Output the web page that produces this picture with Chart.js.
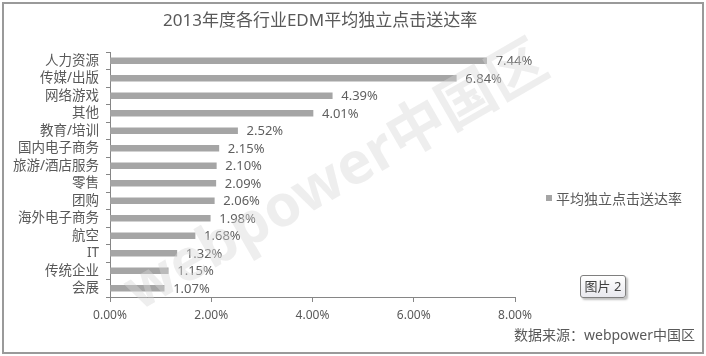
<!DOCTYPE html>
<html>
<head>
<meta charset="utf-8">
<script src="https://cdn.jsdelivr.net/npm/chart.js@4.4.1/dist/chart.umd.min.js"></script>
<style>
  html, body { margin: 0; padding: 0; background: #fff; }
  #wrap { position: relative; width: 706px; height: 356px; overflow: hidden; font-family: "Noto Sans", "Noto Sans CJK SC", sans-serif; color: #595959; }
  #c { position: absolute; left: 0; top: 0; }
  #frame { position: absolute; left: 2px; top: 2px; width: 698px; height: 348px; border: 2px solid #9a9a9a; box-sizing: content-box; pointer-events: none; }
  .txt { position: absolute; white-space: nowrap; line-height: 1; }
  #title { left: 163px; top: 11px; font-size: 17px; color: #595959; }
  #legend { left: 546px; top: 192px; font-size: 14px; }
  #legend .sw { display: inline-block; width: 6px; height: 6px; background: #a5a5a5; margin-right: 4px; vertical-align: 3px; }
  #source { right: 11px; top: 328px; font-size: 14px; }
  #tag { left: 580px; top: 275px; width: 44px; height: 21px; border: 1px solid #7f7f7f; border-radius: 3px; background: linear-gradient(#ffffff, #e8e8ee); box-shadow: 2px 2px 2px rgba(0,0,0,0.25); font-size: 13px; text-align: center; line-height: 21px; color: #404040; }
</style>
</head>
<body>
<div id="wrap">
  <canvas id="c" width="706" height="356"></canvas>
  <div id="frame"></div>
  <div class="txt" id="title">2013年度各行业EDM平均独立点击送达率</div>
  <div class="txt" id="legend"><span class="sw"></span>平均独立点击送达率</div>
  <div class="txt" id="tag">图片 2</div>
  <div class="txt" id="source">数据来源：webpower中国区</div>
</div>
<script>
const categories = ["人力资源", "传媒/出版", "网络游戏", "其他", "教育/培训", "国内电子商务", "旅游/酒店服务", "零售", "团购", "海外电子商务", "航空", "IT", "传统企业", "会展"];
const clickRates = [7.44, 6.84, 4.39, 4.01, 2.52, 2.15, 2.10, 2.09, 2.06, 1.98, 1.68, 1.32, 1.15, 1.07];
const xTicks = [0, 2, 4, 6, 8];
const seriesName = "平均独立点击送达率";
const watermarkText = "webpower中国区";

const FONT = '"Noto Sans", "Noto Sans CJK SC", sans-serif';
const AXIS = '#868686';

const valueLabels = {
  id: 'valueLabels',
  afterDatasetsDraw(chart) {
    const ctx = chart.ctx;
    const meta = chart.getDatasetMeta(0);
    ctx.save();
    ctx.font = '13px ' + FONT;
    ctx.fillStyle = '#5f5f5f';
    ctx.textAlign = 'left';
    ctx.textBaseline = 'middle';
    meta.data.forEach((bar, i) => {
      ctx.fillText(clickRates[i].toFixed(2) + '%', bar.x + 9, bar.y + 1);
    });
    ctx.restore();
  }
};

const watermark = {
  id: 'watermark',
  afterDraw(chart) {
    const ctx = chart.ctx;
    ctx.save();
    ctx.translate(337, 178);
    ctx.rotate(-30 * Math.PI / 180);
    ctx.font = 'bold 58px ' + FONT;
    ctx.fillStyle = 'rgba(215,215,215,0.42)';
    ctx.textAlign = 'center';
    ctx.textBaseline = 'middle';
    ctx.fillText(watermarkText, 0, 0);
    ctx.restore();
  }
};

new Chart(document.getElementById('c'), {
  type: 'bar',
  data: {
    labels: categories,
    datasets: [{
      label: seriesName,
      data: clickRates,
      backgroundColor: '#a5a5a5',
      barThickness: 6
    }]
  },
  options: {
    indexAxis: 'y',
    responsive: false,
    animation: false,
    layout: { padding: { left: 0, top: 52, right: 191, bottom: 0 } },
    plugins: {
      legend: { display: false },
      title: { display: false },
      tooltip: { enabled: false }
    },
    scales: {
      x: {
        min: 0,
        max: 8,
        afterBuildTicks(scale) { scale.ticks = xTicks.map(v => ({ value: v })); },
        afterFit(scale) { scale.height = 59; },
        grid: { drawOnChartArea: false, drawTicks: true, tickLength: 5, color: AXIS },
        border: { display: true, color: AXIS, width: 1 },
        ticks: {
          padding: 6,
          color: '#595959',
          font: { family: FONT, size: 12 },
          callback: v => Number(v).toFixed(2) + '%'
        }
      },
      y: {
        afterFit(scale) { scale.width = 110; },
        grid: { drawOnChartArea: false, drawTicks: true, tickLength: 4, color: AXIS, offset: true },
        border: { display: true, color: AXIS, width: 1 },
        ticks: {
          padding: 7,
          color: '#595959',
          font: { family: FONT, size: 13.5 },
          autoSkip: false
        }
      }
    }
  },
  plugins: [valueLabels, watermark]
});
</script>
</body>
</html>
